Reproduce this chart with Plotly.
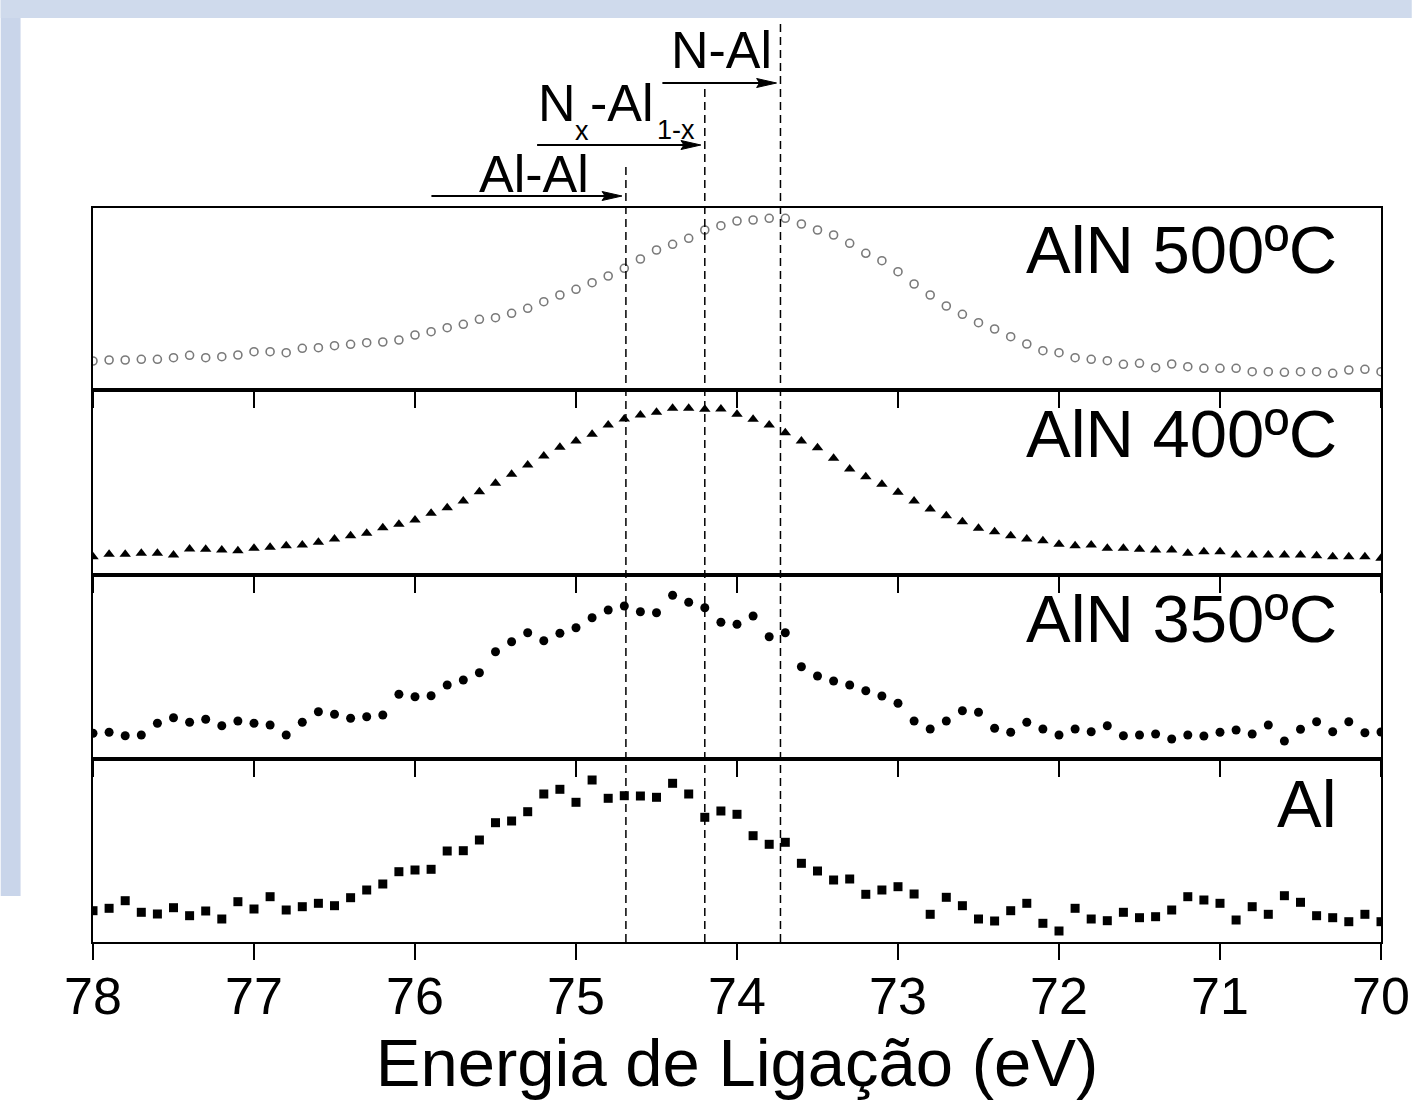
import numpy as np
import plotly.graph_objects as go

# Binding energy grid (eV), 0.1 eV steps from 78 to 70
energy = np.round(np.arange(78.0, 69.95, -0.1), 1)

# Intensities (arbitrary units)
i_500 = [29.0, 30.0, 30.0, 30.7, 30.7, 32.3, 34.7, 32.3, 33.3, 35.0, 38.3, 38.3, 37.3, 41.7, 42.3, 44.3,
         45.7, 47.3, 48.0, 50.0, 55.0, 58.3, 62.3, 65.7, 70.7, 72.3, 76.7, 81.7, 88.3, 95.0, 100.7, 107.3,
         114.0, 121.7, 131.0, 140.0, 145.7, 151.7, 160.0, 164.3, 169.0,
         170.0, 171.7, 171.7, 166.0, 160.0, 155.0, 146.7, 136.7, 129.3, 118.3, 106.0, 95.0, 84.0, 75.7,
         67.3, 61.0, 53.3, 46.0, 39.3, 37.3, 32.3, 30.7, 29.3, 25.7, 26.7, 22.3, 26.0, 23.3, 21.7, 21.7,
         21.7, 18.3, 18.3, 17.7, 18.3, 18.3, 16.7, 20.0, 20.7, 18.3]
i_400 = [18.3, 20.7, 20.7, 21.7, 21.7, 20.0, 26.0, 25.7, 25.0, 24.3, 26.7, 27.7, 29.3, 30.0, 32.7, 36.0,
         39.3, 41.7, 47.3, 50.7, 55.0, 61.7, 67.3, 74.0, 83.3, 91.7, 100.7, 110.0, 119.0, 127.7, 134.0,
         140.7, 150.0, 156.0, 160.0, 162.7, 166.7, 166.7, 165.7, 166.0, 160.7,
         155.7, 150.0, 142.3, 134.0, 127.3, 116.7, 106.0, 98.3, 90.7, 82.7, 74.0, 66.0, 59.3, 53.3, 46.7,
         43.3, 39.3, 36.0, 34.3, 30.7, 29.3, 30.0, 26.7, 26.7, 25.7, 25.0, 25.0, 21.7, 23.3, 23.3, 20.0,
         20.0, 20.0, 20.0, 20.0, 19.3, 18.3, 18.3, 18.3, 16.7]
i_350 = [26.7, 27.7, 24.3, 25.0, 36.7, 42.3, 37.7, 40.7, 34.3, 39.0, 36.7, 35.0, 25.0, 37.7, 48.3, 45.7,
         41.7, 43.3, 45.0, 65.7, 63.3, 64.3, 75.0, 80.0, 87.3, 108.3, 118.3, 127.3, 119.3, 126.7, 132.3,
         142.3, 150.0, 154.0, 148.3, 147.3, 164.7, 157.7, 152.3, 137.7, 135.7,
         144.0, 123.3, 127.3, 93.3, 84.0, 79.0, 75.0, 69.3, 64.0, 56.7, 39.0, 31.0, 39.0, 49.3, 47.7, 31.7,
         27.7, 37.7, 31.0, 25.0, 31.0, 28.3, 34.3, 24.3, 25.0, 26.0, 21.0, 25.0, 24.0, 27.7, 30.0, 26.0,
         35.0, 19.0, 30.7, 38.3, 28.3, 38.3, 27.3, 28.0]
i_al = [34.3, 36.7, 44.3, 32.7, 31.0, 37.3, 29.3, 34.0, 26.0, 43.3, 36.0, 48.3, 35.0, 38.3, 41.7, 39.3,
        47.3, 55.0, 61.0, 73.3, 75.0, 75.7, 94.0, 94.3, 105.0, 122.3, 124.0, 133.3, 151.0, 155.7, 142.7,
        165.0, 146.7, 149.3, 149.0, 147.7, 161.7, 151.0, 127.7, 134.0, 130.7,
        109.3, 100.7, 102.7, 81.7, 74.0, 65.0, 66.0, 50.7, 55.0, 58.3, 51.0, 30.7, 47.7, 39.3, 26.0, 24.0,
        34.3, 41.7, 21.7, 14.0, 36.7, 26.0, 24.3, 32.7, 27.3, 28.3, 35.0, 48.3, 45.0, 41.7, 25.0, 38.3,
        30.7, 49.3, 42.7, 29.3, 27.3, 23.3, 30.7, 23.3]

panel_labels = ["AlN 500ºC", "AlN 400ºC", "AlN 350ºC", "Al"]
series = [i_500, i_400, i_350, i_al]
symbols = ["circle-open", "triangle-up", "circle", "square"]
marker_colors = ["#7a7a7a", "black", "black", "black"]
marker_sizes = [8, 10, 9, 9]

# Reference binding energies (eV) and labels
ref_energy = [74.69, 74.20, 73.73]
ref_labels = ["Al-Al", "N-Al"]
mixed_parts = ["N", "x", "-Al", "1-x"]   # N_x-Al_(1-x)

tick_vals = [78, 77, 76, 75, 74, 73, 72, 71, 70]

FONT = "Liberation Sans, Arial, Helvetica, sans-serif"
W, H = 1422, 1111
ML, MR, MT, MB = 93, 31, 208, 169
PW = W - ML - MR
PH = H - MT - MB
PX_PER_EV = PW / 8.0


def py(pix):
    """pixel row -> paper y"""
    return (H - MB - pix) / PH


def px(pix):
    return (pix - ML) / PW


domains = [[py(390), 1.0], [py(575), py(390)], [py(759), py(575)], [0.0, py(759)]]
yranges = [[0, 182], [0, 185], [1, 185], [3, 186]]

fig = go.Figure()
for k in range(4):
    n = k + 1
    fig.add_trace(go.Scatter(
        x=energy, y=series[k], mode="markers", name=panel_labels[k],
        xaxis=f"x{n}", yaxis=f"y{n}",
        marker=dict(symbol=symbols[k], size=marker_sizes[k], color=marker_colors[k],
                    line=dict(width=1.6 if k == 0 else 0, color=marker_colors[k])),
        showlegend=False,
    ))
    xa = dict(range=[78, 70], autorange=False, domain=[0, 1], anchor=f"y{n}",
              showline=True, linecolor="black", linewidth=2, mirror=True,
              ticks="outside", ticklen=16, tickwidth=2, tickcolor="black",
              tickvals=tick_vals, showgrid=False, zeroline=False,
              showticklabels=(k == 3), ticklabelstandoff=-8, ticklabeloverflow="allow",
              tickfont=dict(family=FONT, size=52, color="black"))
    if k == 3:
        xa["title"] = dict(text="Energia de Ligação (eV)",
                           font=dict(family=FONT, size=67, color="black"), standoff=14)
    else:
        xa["matches"] = "x4"
    ya = dict(domain=domains[k], range=yranges[k], autorange=False, anchor=f"x{n}",
              showline=True, linecolor="black", linewidth=2, mirror=True,
              ticks="", showticklabels=False, showgrid=False, zeroline=False)
    fig.layout[f"xaxis{n}"] = xa
    fig.layout[f"yaxis{n}"] = ya

# Panel labels
label_y_pix = [249, 433, 618, 803]
for k in range(4):
    fig.add_annotation(text=panel_labels[k], xref="paper", yref="paper",
                       x=px(1349), y=py(label_y_pix[k]), xanchor="right", yanchor="middle",
                       showarrow=False, font=dict(family=FONT, size=67, color="black"))

# Dashed reference lines
dash_top_pix = [165, 88, 20]
for e, tp in zip(ref_energy, dash_top_pix):
    fig.add_shape(type="line", xref="x4", yref="paper", x0=e, x1=e, y0=0, y1=py(tp),
                  line=dict(color="black", width=1.5, dash="8px,5px"))

# Arrows pointing at the reference energies (shaft + filled head)
arrow_y_pix = [196, 145, 83]
arrow_len_px = [192, 165, 115]
head_len = 20 / PX_PER_EV
head_half = 4.5 / PH
for e, ay_pix, L in zip(ref_energy, arrow_y_pix, arrow_len_px):
    tip = e + 4 / PX_PER_EV
    yy = py(ay_pix)
    fig.add_shape(type="line", xref="x4", yref="paper", x0=tip + L / PX_PER_EV, x1=tip + head_len * 0.8,
                  y0=yy, y1=yy, line=dict(color="black", width=2))
    fig.add_shape(type="path", xref="x4", yref="paper",
                  path=f"M {tip},{yy} L {tip + head_len},{yy + head_half} "
                       f"L {tip + head_len * 0.85},{yy} L {tip + head_len},{yy - head_half} Z",
                  fillcolor="black", line=dict(color="black", width=1))

# Reference labels
fig.add_annotation(text=ref_labels[0], xref="paper", yref="paper", x=px(537), y=py(174),
                   xanchor="center", yanchor="middle", showarrow=False,
                   font=dict(family=FONT, size=52, color="black"))
fig.add_annotation(text=ref_labels[1], xref="paper", yref="paper", x=px(726), y=py(50),
                   xanchor="center", yanchor="middle", showarrow=False,
                   font=dict(family=FONT, size=52, color="black"))
# N_x-Al_(1-x): main text and small, lowered subscripts
part_left = [539, 577, 592, 659]
part_y = [103, 131, 103, 130]
part_size = [52, 27, 52, 27]
for t, xl, yc, fs in zip(mixed_parts, part_left, part_y, part_size):
    fig.add_annotation(text=t, xref="paper", yref="paper", x=px(xl), y=py(yc),
                       xanchor="left", yanchor="middle", showarrow=False,
                       font=dict(family=FONT, size=fs, color="black"))

# Light blue slide frame behind the chart
frame_col = "#c9d5ea"
fig.add_shape(type="rect", xref="paper", yref="paper", layer="below",
              x0=px(0), x1=px(20), y0=py(896), y1=py(0), line=dict(width=0), fillcolor=frame_col)
fig.add_shape(type="rect", xref="paper", yref="paper", layer="below",
              x0=px(0), x1=px(W), y0=py(18), y1=py(0), line=dict(width=0), fillcolor="#cfdaec")

fig.update_layout(width=W, height=H, margin=dict(l=ML, r=MR, t=MT, b=MB),
                  paper_bgcolor="white", plot_bgcolor="rgba(0,0,0,0)",
                  font=dict(family=FONT, color="black"))

post = ("document.documentElement.style.overflow='hidden';"
        "document.body.style.margin='0';document.body.style.overflow='hidden';"
        "var d=document.getElementById('{plot_id}');"
        "d.style.overflow='hidden';d.style.width='1422px';d.style.height='1111px';")
fig.write_html("out.html", config={"displayModeBar": False}, post_script=post)
